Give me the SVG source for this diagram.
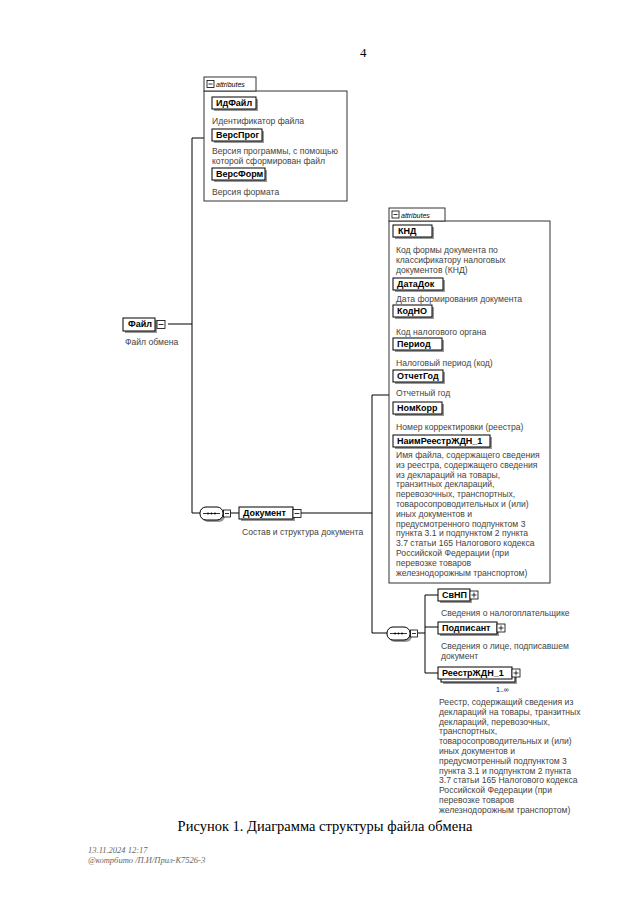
<svg xmlns="http://www.w3.org/2000/svg" width="640" height="901" viewBox="0 0 640 901">
<style>
.bg{fill:#fff}
.el{fill:#fff;stroke:#000;stroke-width:1}
.sh{fill:#999}
.nm{font-family:"Liberation Sans",Arial,sans-serif;font-size:9px;font-weight:bold;fill:#000}
.ds{font-family:"Liberation Sans",Arial,sans-serif;font-size:8.6px;fill:#444}
.cn{fill:none;stroke:#000;stroke-width:1}
.ct{fill:#fff;stroke:#333;stroke-width:1}
.tab{font-family:"Liberation Sans",Arial,sans-serif;font-size:7px;font-style:italic;fill:#000}
.ic{fill:#fff;stroke:#000;stroke-width:0.8}
.ip{fill:none;stroke:#000;stroke-width:0.8}
.cap{font-family:"Liberation Serif","Times New Roman",serif;font-size:14.5px;fill:#000}
.ft{font-family:"Liberation Serif","Times New Roman",serif;font-size:8.5px;font-style:italic;fill:#666}
</style>
<rect class="bg" x="0" y="0" width="640" height="901"/>
<text x="360" y="57" font-family="Liberation Serif, serif" font-size="13" fill="#000">4</text>

<g id="connectors">
<path class="cn" d="M168 324H192M192 138V513M192 138H204M192 513H200"/>
<path class="cn" d="M230 513H239M301 513H372M372 395V633M372 395H389M372 633H387"/>
<path class="cn" d="M418 633H425M425 595V673M425 595H438M425 627H438M425 673H438"/>
</g>

<g id="attributes1">
<rect class="ct" x="204" y="91" width="143" height="110"/>
<rect class="ct" x="204" y="77" width="52" height="14"/>
<rect class="ic" x="207" y="80.5" width="7" height="7"/><path class="ip" d="M208.5 84H212.5"/>
<text class="tab" x="216" y="87">attributes</text>
</g>
<g id="ИдФайл"><rect class="sh" x="214" y="99" width="44" height="12"/><rect class="el" x="212" y="97" width="44" height="12"/><text class="nm" x="216" y="106">ИдФайл</text>
<text class="ds" x="212" y="124">Идентификатор файла</text></g>
<g id="ВерсПрог"><rect class="sh" x="214" y="131" width="50" height="12"/><rect class="el" x="212" y="129" width="50" height="12"/><text class="nm" x="216" y="138">ВерсПрог</text>
<text class="ds" x="212" y="154">Версия программы, с помощью</text><text class="ds" x="212" y="163.8">которой сформирован файл</text></g>
<g id="ВерсФорм"><rect class="sh" x="214" y="170" width="53" height="12"/><rect class="el" x="212" y="168" width="53" height="12"/><text class="nm" x="216" y="177">ВерсФорм</text>
<text class="ds" x="212" y="195">Версия формата</text></g>

<g id="Файл"><rect class="sh" x="125" y="320" width="32" height="13"/><rect class="el" x="123" y="318" width="32" height="13"/><text class="nm" x="128" y="327">Файл</text>
<rect class="ic" x="157" y="320.5" width="8" height="8"/><path class="ip" d="M158.5 324.5H163.5"/>
<text class="ds" x="125" y="345">Файл обмена</text></g>

<g id="seq1"><rect class="sh" x="202" y="509" width="23" height="13" rx="6"/><rect class="el" x="200" y="507" width="23" height="13" rx="6"/><path class="ip" d="M203 513.5H220"/><circle cx="208" cy="513.5" r="0.9"/><circle cx="211.5" cy="513.5" r="0.9"/><circle cx="215" cy="513.5" r="0.9"/>
<rect class="ic" x="223.5" y="510" width="7" height="7"/><path class="ip" d="M225 513.5H229"/></g>

<g id="Документ"><rect class="sh" x="241" y="509" width="54" height="12"/><rect class="el" x="239" y="507" width="54" height="12"/><text class="nm" x="243" y="516">Документ</text>
<rect class="ic" x="293" y="509.5" width="8" height="8"/><path class="ip" d="M294.5 513.5H299.5"/>
<text class="ds" x="242" y="535">Состав и структура документа</text></g>

<g id="attributes2">
<rect class="ct" x="389" y="221" width="161" height="362"/>
<rect class="ct" x="389" y="208" width="56" height="13"/>
<rect class="ic" x="392" y="211" width="7" height="7"/><path class="ip" d="M393.5 214.5H397.5"/>
<text class="tab" x="401" y="217.5">attributes</text>
</g>
<g id="КНД"><rect class="sh" x="395" y="227" width="39" height="12"/><rect class="el" x="393" y="225" width="39" height="12"/><text class="nm" x="398" y="234">КНД</text>
<text class="ds" x="396" y="253">Код формы документа по</text><text class="ds" x="396" y="262.8">классификатору налоговых</text><text class="ds" x="396" y="272.6">документов (КНД)</text></g>
<g id="ДатаДок"><rect class="sh" x="395" y="280" width="50" height="12"/><rect class="el" x="393" y="278" width="50" height="12"/><text class="nm" x="397" y="287">ДатаДок</text>
<text class="ds" x="396" y="302">Дата формирования документа</text></g>
<g id="КодНО"><rect class="sh" x="395" y="307" width="39" height="12"/><rect class="el" x="393" y="305" width="39" height="12"/><text class="nm" x="397" y="314">КодНО</text>
<text class="ds" x="396" y="335">Код налогового органа</text></g>
<g id="Период"><rect class="sh" x="395" y="340" width="49" height="12"/><rect class="el" x="393" y="338" width="49" height="12"/><text class="nm" x="397" y="347">Период</text>
<text class="ds" x="396" y="366">Налоговый период (код)</text></g>
<g id="ОтчетГод"><rect class="sh" x="395" y="372" width="50" height="12"/><rect class="el" x="393" y="370" width="50" height="12"/><text class="nm" x="397" y="379">ОтчетГод</text>
<text class="ds" x="396" y="396">Отчетный год</text></g>
<g id="НомКорр"><rect class="sh" x="395" y="404" width="49" height="12"/><rect class="el" x="393" y="402" width="49" height="12"/><text class="nm" x="397" y="411">НомКорр</text>
<text class="ds" x="396" y="430">Номер корректировки (реестра)</text></g>
<g id="НаимРеестрЖДН_1"><rect class="sh" x="395" y="437" width="97" height="12"/><rect class="el" x="393" y="435" width="97" height="12"/><text class="nm" x="397" y="444">НаимРеестрЖДН_1</text>
<text class="ds" x="396" y="458">Имя файла, содержащего сведения</text>
<text class="ds" x="396" y="467.8">из реестра, содержащего сведения</text>
<text class="ds" x="396" y="477.6">из деклараций на товары,</text>
<text class="ds" x="396" y="487.4">транзитных деклараций,</text>
<text class="ds" x="396" y="497.2">перевозочных, транспортных,</text>
<text class="ds" x="396" y="507">товаросопроводительных и (или)</text>
<text class="ds" x="396" y="516.8">иных документов и</text>
<text class="ds" x="396" y="526.6">предусмотренного подпунктом 3</text>
<text class="ds" x="396" y="536.4">пункта 3.1 и подпунктом 2 пункта</text>
<text class="ds" x="396" y="546.2">3.7 статьи 165 Налогового кодекса</text>
<text class="ds" x="396" y="556">Российской Федерации (при</text>
<text class="ds" x="396" y="565.8">перевозке товаров</text>
<text class="ds" x="396" y="575.6">железнодорожным транспортом)</text></g>

<g id="seq2"><rect class="sh" x="389" y="629" width="23" height="13" rx="6"/><rect class="el" x="387" y="627" width="23" height="13" rx="6"/><path class="ip" d="M390 633.5H407"/><circle cx="395" cy="633.5" r="0.9"/><circle cx="398.5" cy="633.5" r="0.9"/><circle cx="402" cy="633.5" r="0.9"/>
<rect class="ic" x="410.5" y="630" width="7" height="7"/><path class="ip" d="M412 633.5H416"/></g>

<g id="СвНП"><rect class="sh" x="440" y="591" width="32" height="12"/><rect class="el" x="438" y="589" width="32" height="12"/><text class="nm" x="442" y="598">СвНП</text>
<rect class="ic" x="470" y="591" width="8" height="8"/><path class="ip" d="M471.5 595H476.5M474 592.5V597.5"/>
<text class="ds" x="441" y="616">Сведения о налогоплательщике</text></g>
<g id="Подписант"><rect class="sh" x="440" y="624" width="59" height="12"/><rect class="el" x="438" y="622" width="59" height="12"/><text class="nm" x="442" y="631">Подписант</text>
<rect class="ic" x="497" y="624" width="8" height="8"/><path class="ip" d="M498.5 628H503.5M501 625.5V630.5"/>
<text class="ds" x="441" y="649">Сведения о лице, подписавшем</text><text class="ds" x="441" y="658.8">документ</text></g>
<g id="РеестрЖДН_1"><rect class="sh" x="443" y="672" width="74" height="12"/><rect class="el" x="441" y="670" width="74" height="12"/><rect class="el" x="438" y="667" width="74" height="12"/><text class="nm" x="442" y="676">РеестрЖДН_1</text>
<rect class="ic" x="512" y="669" width="8" height="8"/><path class="ip" d="M513.5 673H518.5M516 670.5V675.5"/>
<text x="496" y="692" font-family="Liberation Sans, sans-serif" font-size="7" fill="#000">1..∞</text>
<text class="ds" x="439" y="705">Реестр, содержащий сведения из</text>
<text class="ds" x="439" y="714.8">деклараций на товары, транзитных</text>
<text class="ds" x="439" y="724.6">деклараций, перевозочных,</text>
<text class="ds" x="439" y="734.4">транспортных,</text>
<text class="ds" x="439" y="744.2">товаросопроводительных и (или)</text>
<text class="ds" x="439" y="754">иных документов и</text>
<text class="ds" x="439" y="763.8">предусмотренный подпунктом 3</text>
<text class="ds" x="439" y="773.6">пункта 3.1 и подпунктом 2 пункта</text>
<text class="ds" x="439" y="783.4">3.7 статьи 165 Налогового кодекса</text>
<text class="ds" x="439" y="793.2">Российской Федерации (при</text>
<text class="ds" x="439" y="803">перевозке товаров</text>
<text class="ds" x="439" y="812.8">железнодорожным транспортом)</text></g>

<text class="cap" x="325" y="831" text-anchor="middle">Рисунок 1. Диаграмма структуры файла обмена</text>
<text class="ft" x="88" y="853">13.11.2024 12:17</text>
<text class="ft" x="88" y="863">@котрбито /П.И/Прил-К7526-3</text>
</svg>
